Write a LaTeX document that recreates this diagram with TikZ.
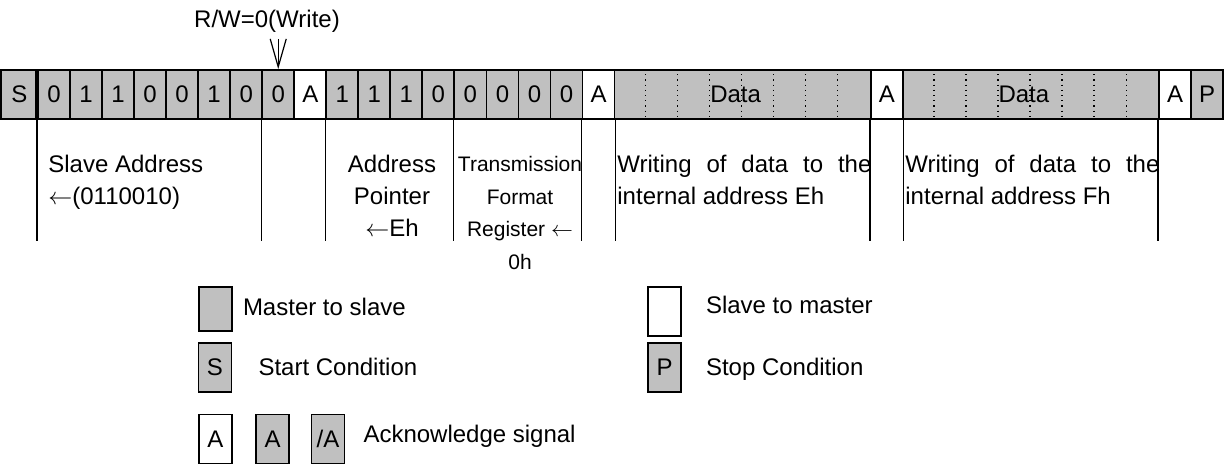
\documentclass[tikz,border=0pt]{standalone}
\usepackage{fontspec}
\setmainfont{Liberation Sans}
\usepackage{tikz}
\usetikzlibrary{arrows.meta,positioning}
\definecolor{cellgray}{RGB}{192,192,192}
\tikzstyle{cell}    = [draw, line width=0.9pt, minimum width=16.015pt, minimum height=24.5pt, inner sep=0pt]
\tikzstyle{mbox}    = [cell, fill=cellgray]
\tikzstyle{sbox}    = [cell, fill=white]
\tikzstyle{legbox}  = [line width=0.6pt, minimum width=16.5pt]
\tikzstyle{legtext} = [inner sep=0pt, text height=8.6pt, text depth=2.4pt]
\tikzstyle{divider} = [line width=0.75pt]
\tikzstyle{note}    = [inner sep=0pt]
\tikzstyle{rwarrow} = [line width=0.6pt, -{Straight Barb[length=14pt,width=8pt]}]
\tikzset{
	every node/.style={font=\fontsize{12}{16}\selectfont},
}
\newcommand{\fullline}[1]{\makebox[127pt][s]{#1}}

\begin{document}
\begin{tikzpicture}[x=0.5pt, y=-0.5pt]
	\useasboundingbox (0,0) rectangle (1226,464);

	% frame
	\node[mbox, minimum width=18.5pt] (S) at (19.5,94.5) {S};
	\draw[divider] ([xshift=-1.5pt]S.north east) -- ([xshift=-1.5pt]S.south east);
	\foreach \lbl/\sty [count=\i] in {0/mbox,1/mbox,1/mbox,0/mbox,0/mbox,1/mbox,0/mbox,0/mbox,A/sbox,1/mbox,1/mbox,1/mbox,0/mbox,0/mbox,0/mbox,0/mbox,0/mbox,A/sbox}
		\node[\sty] (c\i) at (21.985+32.03*\i,94.5) {\lbl};
	\node[mbox, minimum width=128.12pt, label={[xshift=-3.5pt]center:Data}] (D1) at (742.66,94.5) {};
	\node[sbox] (c27) at (886.8,94.5) {A};
	\node[mbox, minimum width=128.12pt, label={[xshift=-3.5pt]center:Data}] (D2) at (1030.9,94.5) {};
	\node[sbox] (c36) at (1175.1,94.5) {A};
	\node[mbox] (c37) at (1207.1,94.5) {P};
	\foreach \d in {D1,D2}
		\foreach \k in {1,...,7}
			\draw[dotted, line width=0.6pt] ([xshift={\k*16.015pt}]\d.north west) -- ([xshift={\k*16.015pt}]\d.south west);

	% R/W bit
	\node (rw) at (267,21) {R/W=0(Write)};
	\draw[rwarrow] (rw.south -| c8.north) -- (c8.north);

	% field limits
	\foreach \n in {c1.south west, c8.south west, c10.south west, c14.south west, c18.south west, c18.south east, c27.south west, c27.south east, c36.south west}
		\draw[divider] (\n) -- ++(0,121);

	\node[note, anchor=north west, align=left] (slave) at (48,155) {Slave Address\\$\leftarrow$(0110010)};
	\node[note, anchor=north, align=center] (ptr) at (392,155) {Address\\Pointer\\$\leftarrow$Eh};
	\node[note, anchor=north, align=center, font=\fontsize{10.5}{16.25}\selectfont] (fmt) at (520,156) {Transmission\\Format\\Register $\leftarrow$\\0h};
	\node[note, anchor=north west, align=left] (wr1) at (617,155) {\fullline{Writing of data to the}\\internal address Eh};
	\node[note, anchor=north west, align=left] (wr2) at (905,155) {\fullline{Writing of data to the}\\internal address Fh};

	% legend
	\node[mbox, legbox, minimum height=22pt] (legM) at (215.5,309) {};
	\node[legtext, right=5pt of legM] (txtM) {Master to slave};
	\node[mbox, legbox] (legS) at (215,367.5) {S};
	\node[legtext, right=13pt of legS, yshift=-1pt] (txtS) {Start Condition};
	\node[sbox, legbox] (legA) at (215.5,439) {A};
	\node[mbox, legbox] (legAm) at (272.5,439) {A};
	\node[mbox, legbox] (legNA) at (328,439) {/A};
	\node[legtext, right=9pt of legNA, yshift=1.5pt] (txtA) {Acknowledge signal};
	\node[sbox, legbox] (legW) at (664.5,311.5) {};
	\node[legtext, right=12pt of legW, yshift=2pt] (txtW) {Slave to master};
	\node[mbox, legbox] (legP) at (664.5,367.5) {P};
	\node[legtext, right=12pt of legP, yshift=-1pt] (txtP) {Stop Condition};
\end{tikzpicture}
\end{document}
